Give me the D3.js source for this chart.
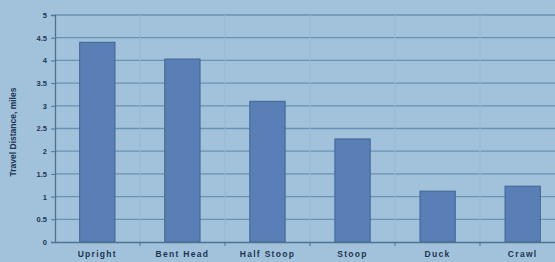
<!DOCTYPE html>
<html><head><meta charset="utf-8">
<script src="https://cdn.jsdelivr.net/npm/d3@7"></script>
<style>html,body{margin:0;padding:0;background:#a2c2db;overflow:hidden}</style>
</head><body>
<svg id="c" width="555" height="262"></svg>
<script>
const categories = ["Upright","Bent Head","Half Stoop","Stoop","Duck","Crawl"];
const distances = [4.4, 4.03, 3.1, 2.27, 1.12, 1.23];
const yTicks = [0,0.5,1,1.5,2,2.5,3,3.5,4,4.5,5];
const yTickLabels = ["0","0.5","1","1.5","2","2.5","3","3.5","4","4.5","5"];
const yTitle = "Travel Distance, miles";

const svg = d3.select("#c");
svg.append("rect").attr("width",555).attr("height",262).attr("fill","#a2c2db");
const x = d3.scaleBand().domain(categories).range([55,565]).paddingInner(0.585).paddingOuter(0.29);
const y = d3.scaleLinear().domain([0,5]).range([242,15]);

svg.append("g").selectAll("line").data(yTicks.slice(1)).join("line")
  .attr("x1",55).attr("x2",555).attr("y1",d=>y(d)).attr("y2",d=>y(d))
  .attr("stroke","#6a92b2").attr("stroke-width",1.3);
const bounds = categories.map((c,i)=>55+i*85).slice(1);
svg.append("g").selectAll("line").data(bounds).join("line")
  .attr("x1",d=>d).attr("x2",d=>d).attr("y1",15).attr("y2",242)
  .attr("stroke","#97b8d1").attr("stroke-width",1);

svg.append("g").selectAll("rect").data(distances).join("rect")
  .attr("x",(d,i)=>x(categories[i])).attr("width",x.bandwidth())
  .attr("y",d=>y(d)).attr("height",d=>y(0)-y(d))
  .attr("fill","#5a7fb6").attr("stroke","#3d6694").attr("stroke-width",1);

const ya = svg.append("g").attr("transform","translate(55,0)")
  .call(d3.axisLeft(y).tickValues(yTicks).tickFormat((d,i)=>yTickLabels[i]).tickSize(4).tickPadding(4));
const xa = svg.append("g").attr("transform","translate(0,242)")
  .call(d3.axisBottom(x).tickSize(0).tickPadding(9));
xa.append("g").selectAll("line").data(bounds).join("line")
  .attr("x1",d=>d).attr("x2",d=>d).attr("y1",0).attr("y2",4).attr("stroke","#4d7391");
[ya,xa].forEach(a=>{a.select(".domain").attr("stroke","#4d7391").attr("stroke-width",1.3);
  a.selectAll(".tick line").attr("stroke","#4d7391");
  a.selectAll("text").attr("fill","#1e3552").attr("font-family","Liberation Sans, Arial, sans-serif").attr("font-weight","bold");});
ya.selectAll("text").attr("font-size",7.5);
xa.selectAll("text").attr("font-size",8.5).attr("letter-spacing","1.3px");

svg.append("text").attr("transform","translate(16,132) rotate(-90)")
  .attr("text-anchor","middle").attr("font-family","Liberation Sans, Arial, sans-serif")
  .attr("font-weight","bold").attr("font-size",8.5).attr("fill","#1e3552").text(yTitle);
</script>
</body></html>
